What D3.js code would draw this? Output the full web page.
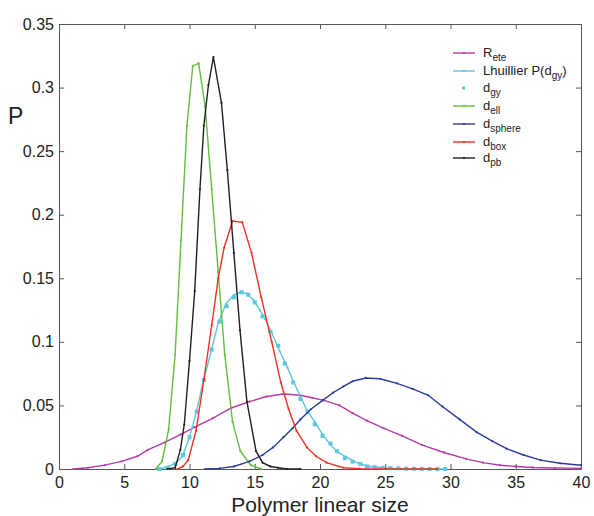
<!DOCTYPE html>
<html>
<head>
<meta charset="utf-8">
<script src="https://cdn.jsdelivr.net/npm/d3@7"></script>
<style>
  body { margin: 0; background: #fff; }
  svg { display: block; font-family: "Liberation Sans", Arial, Helvetica, sans-serif; }
</style>
</head>
<body>
<svg id="chart" width="594" height="516"></svg>
<script>
// ---- data ----
const xTicks = [0, 5, 10, 15, 20, 25, 30, 35, 40];
const yTicks = [0, 0.05, 0.1, 0.15, 0.2, 0.25, 0.3, 0.35];
const yTickLabels = ["0", "0.05", "0.1", "0.15", "0.2", "0.25", "0.3", "0.35"];

const rEte = [[1.1,0],[2.2,0.001],[3.5,0.003],[4.8,0.006],[6.0,0.01],[6.8,0.015],[8.1,0.021],[9.3,0.027],[10.4,0.033],[11.8,0.04],[13.2,0.048],[14.6,0.053],[15.9,0.057],[17.2,0.059],[18.5,0.058],[19.4,0.056],[20.3,0.054],[21.5,0.05],[22.5,0.044],[23.6,0.038],[24.9,0.032],[26.3,0.026],[27.8,0.019],[29.5,0.013],[31.2,0.008],[32.5,0.005],[33.8,0.003],[35.0,0.002],[36.3,0.0012],[38,0.0008],[40,0.0005]];

const lhuillier = [[7.7,0],[8.4,0.002],[9.0,0.005],[9.45,0.01],[10.0,0.025],[10.55,0.046],[11.06,0.069],[11.7,0.094],[12.2,0.115],[12.8,0.13],[13.4,0.137],[13.9,0.139],[14.4,0.138],[14.9,0.133],[15.4,0.125],[15.8,0.118],[16.3,0.107],[16.9,0.093],[17.5,0.08],[17.95,0.069],[18.5,0.057],[19.0,0.046],[19.6,0.037],[20.2,0.027],[20.8,0.019],[21.4,0.013],[22.0,0.0095],[22.6,0.006],[23.2,0.0035],[23.8,0.002],[24.5,0.0012],[25.3,0.0006],[26.5,0.0002],[28,0.0001],[29.5,0]];

const dGy = [[7.7,0],[8.3,0.001],[8.9,0.004],[9.5,0.011],[10.0,0.025],[10.55,0.045],[11.1,0.07],[11.7,0.094],[12.3,0.116],[12.85,0.128],[13.4,0.135],[14.0,0.139],[14.5,0.137],[15.0,0.131],[15.6,0.12],[16.2,0.108],[16.8,0.097],[17.3,0.083],[17.95,0.068],[18.5,0.055],[19.05,0.045],[19.6,0.035],[20.2,0.026],[20.8,0.02],[21.3,0.014],[21.9,0.0085],[22.5,0.0058],[23.1,0.004],[23.6,0.002],[24.2,0.0015],[24.8,0.001],[25.4,0.0007],[26.0,0.0005],[26.6,0.0003],[27.2,0.0002],[27.8,0.0001],[28.4,0.0001],[29.0,0],[29.6,0]];

const dEll = [[7.4,0],[7.9,0.006],[8.4,0.031],[8.9,0.09],[9.35,0.18],[9.8,0.27],[10.25,0.317],[10.7,0.319],[11.2,0.285],[11.7,0.22],[12.2,0.155],[12.7,0.09],[13.3,0.037],[13.9,0.014],[14.7,0.003],[15.5,0]];

const dSphere = [[11.2,0],[12.3,0.0005],[13.4,0.002],[14.6,0.006],[15.6,0.011],[16.4,0.017],[17.2,0.025],[17.9,0.032],[18.5,0.039],[19.3,0.047],[20.2,0.054],[21.0,0.06],[21.8,0.065],[22.5,0.069],[23.5,0.0716],[24.6,0.071],[25.9,0.0674],[27.1,0.063],[28.3,0.058],[29.4,0.049],[30.7,0.039],[32.0,0.029],[33.2,0.022],[34.3,0.016],[35.6,0.011],[36.9,0.007],[38.4,0.0045],[40,0.003]];

const dBox = [[9.1,0],[9.5,0.002],[9.9,0.007],[10.5,0.03],[11.1,0.07],[11.7,0.113],[12.2,0.15],[12.65,0.174],[13.3,0.195],[14.05,0.194],[14.75,0.17],[15.5,0.135],[16.3,0.1],[17.0,0.068],[17.6,0.047],[18.2,0.03],[19.0,0.017],[19.7,0.01],[20.5,0.005],[21.8,0.001],[23,0.0003],[25,0],[29,0]];

const dPb = [[8.3,0],[8.9,0.001],[9.3,0.015],[9.6,0.035],[10.0,0.085],[10.4,0.14],[10.8,0.22],[11.1,0.27],[11.45,0.302],[11.83,0.324],[12.45,0.288],[12.9,0.235],[13.4,0.17],[13.87,0.109],[14.4,0.053],[15.1,0.014],[15.6,0.005],[16.2,0.002],[16.8,0.001],[17.5,0],[18.5,0]];

const series = [
  {name: "R", sub: "ete", data: rEte, color: "#b53ba8", type: "line"},
  {name: "Lhuillier P(d", sub: "gy", tail: ")", data: lhuillier, color: "#5ec6de", type: "line"},
  {name: "d", sub: "gy", data: dGy, color: "#5ec6de", type: "dots"},
  {name: "d", sub: "ell", data: dEll, color: "#62bf3d", type: "line"},
  {name: "d", sub: "sphere", data: dSphere, color: "#2b3d9a", type: "line"},
  {name: "d", sub: "box", data: dBox, color: "#ee3124", type: "line"},
  {name: "d", sub: "pb", data: dPb, color: "#231f20", type: "line"}
];

// ---- layout ----
const svg = d3.select("#chart");
const L = 59, R = 581, T = 24, B = 469;
const x = d3.scaleLinear().domain([0, 40]).range([L, R]);
const y = d3.scaleLinear().domain([0, 0.35]).range([B, T]);
const axisColor = "#555";

const gx = svg.append("g").attr("transform", `translate(0,${B})`)
  .call(d3.axisBottom(x).tickValues(xTicks).tickSize(-5).tickPadding(7).tickFormat(d3.format("d")));
const gy = svg.append("g").attr("transform", `translate(${L},0)`)
  .call(d3.axisLeft(y).tickValues(yTicks).tickSize(-5).tickPadding(5).tickFormat((d, i) => yTickLabels[i]));
const gt = svg.append("g").attr("transform", `translate(0,${T})`)
  .call(d3.axisTop(x).tickValues(xTicks).tickSize(-5).tickFormat(""));
const gr = svg.append("g").attr("transform", `translate(${R},0)`)
  .call(d3.axisRight(y).tickValues(yTicks).tickSize(-5).tickFormat(""));
[gx, gy, gt, gr].forEach(g => {
  g.select(".domain").attr("stroke", axisColor).attr("stroke-width", 1);
  g.selectAll(".tick line").attr("stroke", axisColor);
});
[gx, gy].forEach(g => g.selectAll(".tick text").attr("fill", "#222").style("font-size", "16px"));
gx.selectAll(".tick text").attr("dy", "0.75em");

// axis titles
svg.append("text").attr("x", (L + R) / 2).attr("y", 512).attr("text-anchor", "middle")
  .style("font-size", "21px").attr("fill", "#222").text("Polymer linear size");
svg.append("text").attr("x", 8).attr("y", 124)
  .style("font-size", "23px").attr("fill", "#222").text("P");

// ---- series ----
const line = d3.line().x(d => x(d[0])).y(d => y(d[1]));
const plot = svg.append("g");
series.forEach(s => {
  if (s.type === "line") {
    plot.append("path").datum(s.data).attr("d", line)
      .attr("fill", "none").attr("stroke", s.color).attr("stroke-width", 1.4);
    plot.selectAll(null).data(s.data).enter().append("circle")
      .attr("cx", d => x(d[0])).attr("cy", d => y(d[1])).attr("r", 1.1).attr("fill", s.color);
  } else {
    plot.selectAll(null).data(s.data).enter().append("rect")
      .attr("x", d => x(d[0]) - 2).attr("y", d => y(d[1]) - 2)
      .attr("width", 4).attr("height", 4).attr("fill", s.color);
  }
});

// ---- legend ----
const legY = [53, 71, 88, 106, 124, 142, 158];
const leg = svg.append("g");
series.forEach((s, i) => {
  const yy = legY[i];
  if (s.type === "line") {
    leg.append("line").attr("x1", 453).attr("x2", 475).attr("y1", yy).attr("y2", yy)
      .attr("stroke", s.color).attr("stroke-width", 1.4);
    leg.append("circle").attr("cx", 464).attr("cy", yy).attr("r", 1.1).attr("fill", s.color);
  } else {
    leg.append("rect").attr("x", 462).attr("y", yy - 1.5).attr("width", 3).attr("height", 3).attr("fill", s.color);
  }
  const t = leg.append("text").attr("x", 483).attr("y", yy + 4).attr("fill", "#222").style("font-size", "13px");
  t.append("tspan").text(s.name);
  t.append("tspan").attr("dy", 4).style("font-size", "10px").text(s.sub);
  if (s.tail) t.append("tspan").attr("dy", -4).text(s.tail);
});
</script>
</body>
</html>
